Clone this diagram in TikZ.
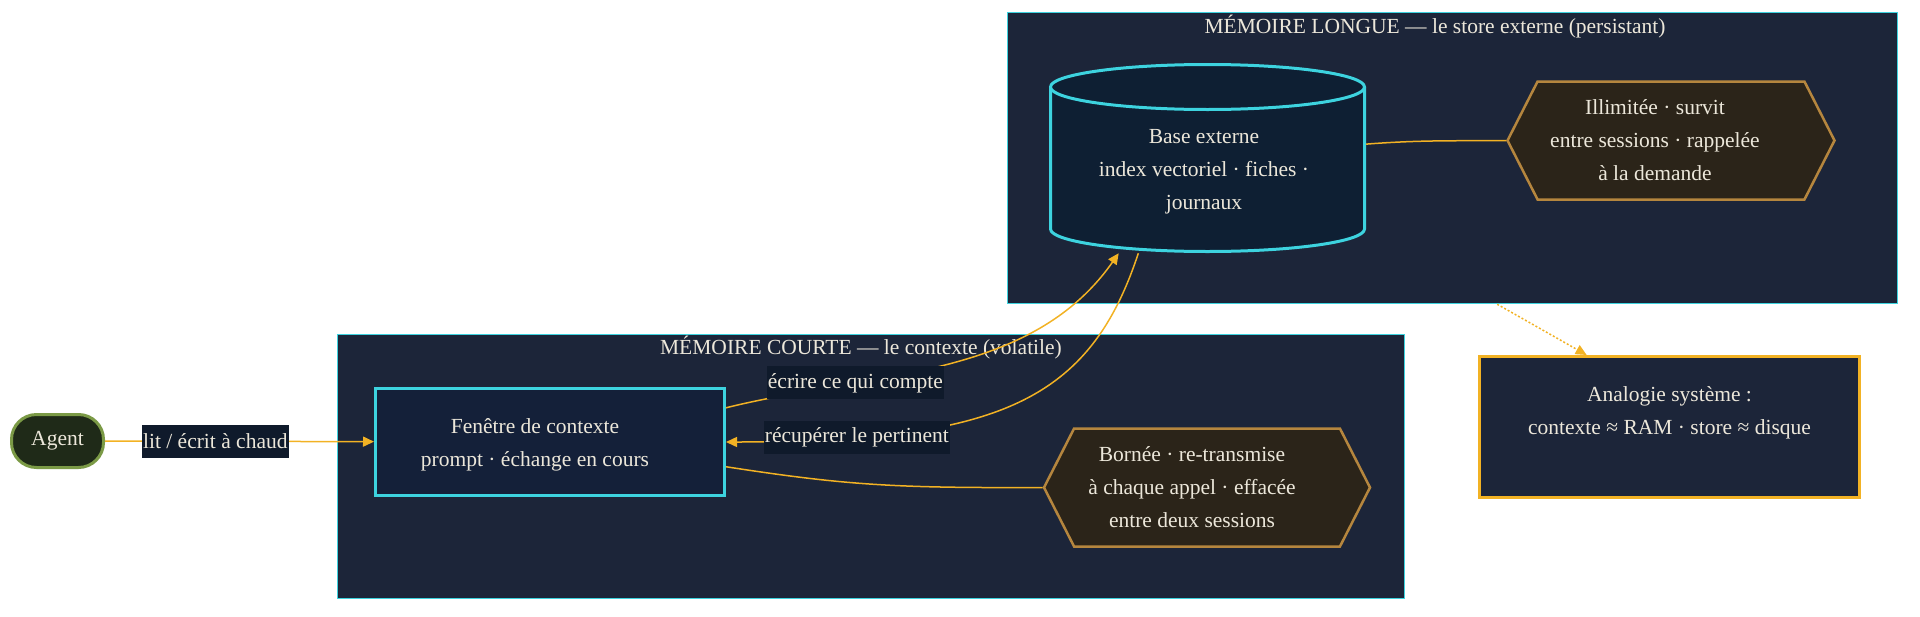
\documentclass[tikz,border=0pt]{standalone}
\usepackage{fontspec}
\setmainfont{Liberation Serif}
\usetikzlibrary{arrows.meta, positioning, shapes.geometric, shapes.symbols}

\definecolor{panel}{HTML}{1C2539}
\definecolor{cyanline}{HTML}{3DD3DF}
\definecolor{winfill}{HTML}{142039}
\definecolor{dbfill}{HTML}{0E1F33}
\definecolor{hexfill}{HTML}{2B2419}
\definecolor{hexline}{HTML}{B5863E}
\definecolor{agentfill}{HTML}{1F2A18}
\definecolor{agentline}{HTML}{7B9A46}
\definecolor{labelbg}{HTML}{0F1A2B}
\definecolor{gold}{HTML}{F2B224}
\definecolor{cream}{HTML}{ECE7DA}

\begin{document}
\begin{tikzpicture}[
    x=1pt, y=-1pt,
    >={Triangle[length=11pt, width=10pt]},
    every node/.style={font=\fontsize{21.5}{33}\selectfont, text=cream},
    cluster/.style={rectangle, draw=cyanline, line width=1.5pt, fill=panel, inner sep=0pt},
    ttl/.style={inner sep=0pt, align=center},
    ctx/.style={rectangle, draw=cyanline, line width=3pt, fill=winfill},
    dbline/.style={draw=cyanline, line width=3pt},
    note/.style={signal, signal to=east and west, signal pointer angle=126, draw=hexline, line width=2.5pt, fill=hexfill, inner sep=0pt},
    agentbox/.style={rectangle, rounded corners=25pt, draw=agentline, line width=3pt, fill=agentfill},
    analogybox/.style={rectangle, draw=gold, line width=3pt, fill=panel, align=center},
    edge/.style={draw=gold, line width=1.5pt},
    lbl/.style={fill=labelbg, inner xsep=1pt, inner ysep=0pt, minimum height=33pt}
  ]
  \useasboundingbox (0,0) rectangle (1920,616);

  % Memory panels
  \node[cluster, minimum width=1067, minimum height=264] (short) at (871,466.5) {};
  \node[cluster, minimum width=890, minimum height=291] (long) at (1452.5,158) {};
  \node[ttl] (shortttl) at (861,348) {MÉMOIRE COURTE — le contexte (volatile)};
  \node[ttl] (longttl) at (1435,27) {MÉMOIRE LONGUE — le store externe (persistant)};

  % Nodes
  \node[agentbox, minimum width=92, minimum height=53] (agent) at (57.5,441) {Agent};
  \node[ctx, minimum width=349, minimum height=107] (win) at (550,442) {};
  \node[ttl] (wintxt) at (535,444.5) {Fenêtre de contexte\\prompt · échange en cours};
  \node[note, minimum width=326, minimum height=118] (bornee) at (1207,487.5) {};
  \node[ttl] (borneetxt) at (1192,487.5) {Bornée · re-transmise\\à chaque appel · effacée\\entre deux sessions};

  % External store (cylinder)
  \node[minimum width=317, minimum height=190, inner sep=0pt] (base) at (1207.5,158) {};
  \fill[dbfill] (1050.5,87) rectangle (1364.5,229);
  \fill[dbfill] (1207.5,229) ellipse [x radius=157, y radius=22.5];
  \draw[dbline] (1050.5,87) -- (1050.5,229) arc[start angle=180, end angle=0, x radius=157, y radius=22.5] -- (1364.5,87);
  \draw[dbline, fill=dbfill] (1207.5,87) ellipse [x radius=157, y radius=22.5];
  \node[ttl] (basetxt) at (1204,171.5) {Base externe\\index vectoriel · fiches ·\\journaux};

  \node[note, minimum width=327, minimum height=118] (illim) at (1671,140.5) {};
  \node[ttl] (illimtxt) at (1655,140.5) {Illimitée · survit\\entre sessions · rappelée\\à la demande};
  \node[analogybox, minimum width=380, minimum height=141] (analog) at (1669.5,427) {Analogie système :\\contexte ≈ RAM · store ≈ disque\\~};

  % Edges
  \draw[edge, ->] (agent) -- node[lbl, pos=0.41] (lblagent) {lit / écrit à chaud} (win);
  \draw[edge, ->] (win.11) .. controls (870,372) and (1030,380) .. node[lbl, pos=0.295] (lblwrite) {écrire ce qui compte} (base.-133);
  \draw[edge, ->] (base.-126) .. controls (1090,400) and (1000,442) .. node[lbl, pos=0.82] (lblfetch) {récupérer le pertinent} (win.east);
  \draw[edge] (win.-8) .. controls (850,486) and (900,488) .. (bornee.west);
  \draw[edge] (base.5) .. controls (1420,140) and (1450,141) .. (illim.west);
  \draw[edge, ->, dash pattern=on 2pt off 2pt] (long.-73) -- (analog.139);
\end{tikzpicture}
\end{document}
